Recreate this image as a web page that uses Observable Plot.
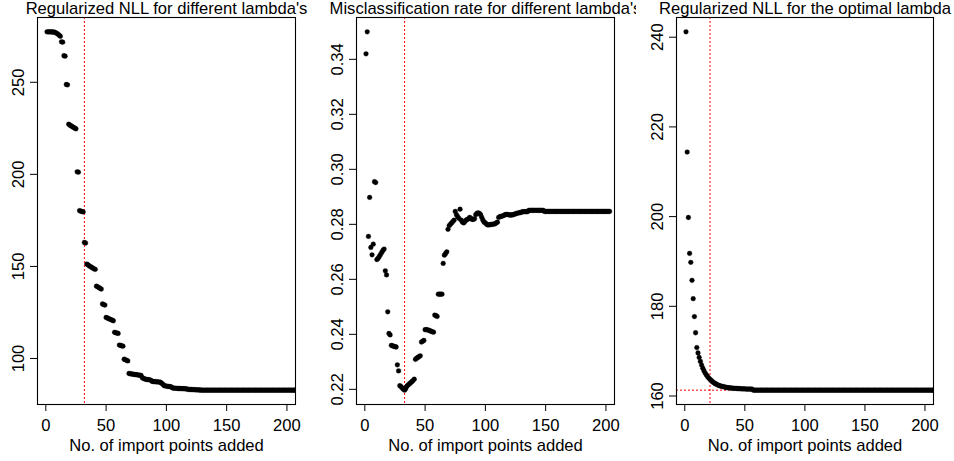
<!DOCTYPE html>
<html><head><meta charset="utf-8">
<script src="https://cdn.jsdelivr.net/npm/d3@7"></script>
<script src="https://cdn.jsdelivr.net/npm/@observablehq/plot@0.6"></script>
<style>
body{margin:0;background:#fff;}
#row{display:flex;width:954px;height:461px;}
#row > div{width:318px;height:461px;overflow:hidden;}
</style></head><body><div id="row"><div id="p1"></div><div id="p2"></div><div id="p3"></div></div>
<script>
// x category: number of import points added
const pointsAdded = d3.range(1, 211);

// Panel 1: Regularized NLL for different lambda's
const nllDifferentLambda = [
  277.4, 277.4, 277.4, 277.4, 277.3, 277.3, 277.2, 277.0, 276.6, 276.2, 275.6, 275.0,
  272.0, 271.8, 264.4, 264.2, 248.8, 248.6,
  227.2, 226.7, 226.3, 225.9, 225.5, 225.1, 224.7,
  201.4, 201.2, 180.3, 180.0, 179.8, 179.6, 163.0, 162.7,
  151.3, 150.8, 150.3, 149.9, 149.5, 149.1, 148.7, 148.4,
  139.3, 138.9, 138.5, 138.1, 137.7,
  129.6, 129.3, 129.0,
  122.3, 122.0, 121.7, 121.4, 121.1, 120.8, 120.5,
  114.2, 114.0, 113.8, 113.6,
  107.3, 107.1, 106.9, 106.7,
  99.6, 99.3, 99.0, 98.7,
  91.9, 91.7, 91.6, 91.5, 91.4, 91.3, 91.2, 91.1, 91.0, 90.9, 90.8,
  89.6, 89.2, 88.9, 88.7, 88.6, 88.5, 88.4, 88.3,
  87.6, 87.5, 87.4, 87.4, 87.3, 87.3, 87.2, 87.1, 86.6, 86.0,
  85.3, 85.1, 85.0, 84.9, 84.8, 84.7, 84.6,
  84.0, 83.9, 83.9, 83.8, 83.8, 83.7, 83.7, 83.7, 83.6, 83.6, 83.6, 83.5, 83.5,
  83.2, 83.2, 83.2, 83.1, 83.1, 83.1, 83.0, 83.0, 83.0, 82.9, 82.9,
  82.8, 82.8, 82.8, 82.8, 82.8, 82.8, 82.8, 82.8, 82.8, 82.8, 82.8, 82.8,
  82.8, 82.8, 82.8, 82.8, 82.8, 82.8, 82.8, 82.8, 82.8, 82.8, 82.8, 82.8,
  82.8, 82.8, 82.8, 82.8, 82.8, 82.8, 82.8, 82.8, 82.8, 82.8, 82.8, 82.8,
  82.8, 82.8, 82.8, 82.8, 82.8, 82.8, 82.8, 82.8, 82.8, 82.8, 82.8, 82.8,
  82.8, 82.8, 82.8, 82.8, 82.8, 82.8, 82.8, 82.8, 82.8, 82.8, 82.8, 82.8,
  82.8, 82.8, 82.8, 82.8, 82.8, 82.8, 82.8, 82.8, 82.8, 82.8, 82.8, 82.8,
  82.8, 82.8, 82.8, 82.8, 82.8, 82.8, 82.8, 82.8, 82.8, 82.8
];

// Panel 2: Misclassification rate for different lambda's
const misclassRate = [
  0.342, 0.350, 0.2756, 0.2898, 0.2716, 0.2689, 0.2728, 0.2955, 0.2952, 0.2672,
  0.2676, 0.2683, 0.2690, 0.2698, 0.2705, 0.2710, 0.2631, 0.2616, 0.2482, 0.2403,
  0.2398, 0.2360, 0.2358, 0.2357, 0.2355, 0.2354, 0.2289, 0.2267, 0.2213, 0.2210,
  0.2205, 0.2200, 0.2197, 0.2203, 0.2212, 0.2216, 0.2220, 0.2224, 0.2228, 0.2232,
  0.2237, 0.2309, 0.2313, 0.2316, 0.2319, 0.2322, 0.2372, 0.2375, 0.2378, 0.2417,
  0.2417, 0.2416, 0.2415, 0.2413, 0.2411, 0.2409, 0.2408, 0.2470, 0.2468, 0.2465,
  0.2546, 0.2546, 0.2546, 0.2546, 0.2658, 0.2688, 0.2694, 0.2700, 0.2782, 0.2795,
  0.2800, 0.2805, 0.2810, 0.2815, 0.2847, 0.2835, 0.2828, 0.2822, 0.2855, 0.2815,
  0.2808, 0.2805, 0.2810, 0.2815, 0.2818, 0.2820, 0.2825, 0.2822, 0.2818, 0.2818,
  0.2820, 0.2835, 0.2840, 0.2842, 0.2840, 0.2835, 0.2825, 0.2815, 0.2808, 0.2805,
  0.2800, 0.2798, 0.2798, 0.2799, 0.2800, 0.2800, 0.2801, 0.2802, 0.2805, 0.2808,
  0.2825, 0.2828, 0.2829, 0.2830, 0.2832, 0.2834, 0.2836, 0.2836, 0.2835, 0.2834,
  0.2834, 0.2834, 0.2835, 0.2837, 0.2838, 0.2840, 0.2841, 0.2842, 0.2843, 0.2844,
  0.2846, 0.2846, 0.2846, 0.2846, 0.2846, 0.2851, 0.2851, 0.2851, 0.2851, 0.2851,
  0.2851, 0.2851, 0.2851, 0.2851, 0.2851, 0.2851, 0.2851, 0.2851, 0.2847, 0.2847,
  0.2847, 0.2847, 0.2847, 0.2847, 0.2847, 0.2847, 0.2847, 0.2847, 0.2847, 0.2847,
  0.2847, 0.2847, 0.2847, 0.2847, 0.2847, 0.2847, 0.2847, 0.2847, 0.2847, 0.2847,
  0.2847, 0.2847, 0.2847, 0.2847, 0.2847, 0.2847, 0.2847, 0.2847, 0.2847, 0.2847,
  0.2847, 0.2847, 0.2847, 0.2847, 0.2847, 0.2847, 0.2847, 0.2847, 0.2847, 0.2847,
  0.2847, 0.2847, 0.2847, 0.2847, 0.2847, 0.2847, 0.2847, 0.2847, 0.2847, 0.2847,
  0.2847, 0.2847, 0.2847
];

// Panel 3: Regularized NLL for the optimal lambda
const nllOptimalLambda = [
  241.2, 214.4, 199.8, 191.8, 189.8, 185.8, 181.7, 177.7, 174.1, 170.8,
  169.6, 168.6, 167.7, 166.9, 166.2, 165.6, 165.1, 164.7, 164.3, 164.0,
  163.7, 163.5, 163.2, 163.0, 162.8, 162.7, 162.5, 162.4, 162.3, 162.2,
  162.15, 162.1, 162.0, 161.95, 161.9, 161.85, 161.8, 161.8, 161.75, 161.75,
  161.7, 161.7, 161.7, 161.65, 161.65, 161.65, 161.6, 161.6, 161.6, 161.6,
  161.55, 161.55, 161.55, 161.55, 161.55, 161.55,
  161.3, 161.3, 161.3, 161.3, 161.3, 161.3, 161.3, 161.3, 161.3, 161.3, 161.3, 161.3,
  161.3, 161.3, 161.3, 161.3, 161.3, 161.3, 161.3, 161.3, 161.3, 161.3, 161.3, 161.3,
  161.3, 161.3, 161.3, 161.3, 161.3, 161.3, 161.3, 161.3, 161.3, 161.3, 161.3, 161.3,
  161.3, 161.3, 161.3, 161.3, 161.3, 161.3, 161.3, 161.3, 161.3, 161.3, 161.3, 161.3,
  161.3, 161.3, 161.3, 161.3, 161.3, 161.3, 161.3, 161.3, 161.3, 161.3, 161.3, 161.3,
  161.3, 161.3, 161.3, 161.3, 161.3, 161.3, 161.3, 161.3, 161.3, 161.3, 161.3, 161.3,
  161.3, 161.3, 161.3, 161.3, 161.3, 161.3, 161.3, 161.3, 161.3, 161.3, 161.3, 161.3,
  161.3, 161.3, 161.3, 161.3, 161.3, 161.3, 161.3, 161.3, 161.3, 161.3, 161.3, 161.3,
  161.3, 161.3, 161.3, 161.3, 161.3, 161.3, 161.3, 161.3, 161.3, 161.3, 161.3, 161.3,
  161.3, 161.3, 161.3, 161.3, 161.3, 161.3, 161.3, 161.3, 161.3, 161.3, 161.3, 161.3,
  161.3, 161.3, 161.3, 161.3, 161.3, 161.3, 161.3, 161.3, 161.3, 161.3, 161.3, 161.3,
  161.3, 161.3, 161.3, 161.3, 161.3, 161.3, 161.3, 161.3, 161.3, 161.3, 161.3, 161.3,
  161.3, 161.3, 161.3, 161.3, 161.3, 161.3, 161.3, 161.3, 161.3, 161.3
];

const titles = [
  "Regularized NLL for different lambda's",
  "Misclassification rate for different lambda's",
  "Regularized NLL for the optimal lambda"
];
const xLabel = "No. of import points added";
const xTicks = [0, 50, 100, 150, 200];
const xDomain = [-6.9, 207.1];
const yTicks1 = [100, 150, 200, 250];
const yTicks2 = [0.22, 0.24, 0.26, 0.28, 0.30, 0.32, 0.34];
const yTicks3 = [160, 180, 200, 220, 240];
const vLines = [32, 33, 21];
const hLine3 = 161.3;

const FONT = "'Liberation Sans', Arial, Helvetica, sans-serif";
const FS = 16.6;

function pad(ext) { const d = (ext[1] - ext[0]) * 0.04; return [ext[0] - d, ext[1] + d]; }

function panel({values, title, yTicks, yFormat, vline, hline, ml, mr}) {
  const data = pointsAdded.map((x, i) => ({x, y: values[i]})).filter(d => d.y != null);
  const marks = [
    Plot.axisX({ticks: xTicks, tickSize: 7, tickPadding: 8, label: xLabel, labelAnchor: "center", labelOffset: 46, labelArrow: "none"}),
    Plot.axisY({ticks: yTicks, tickSize: 7, tickRotate: -90, tickPadding: 7, tickFormat: yFormat, label: null}),
    Plot.ruleX([vline], {x: d => d, stroke: "#ff0000", strokeWidth: 1, strokeDasharray: "2,2"})
  ];
  if (hline != null) marks.push(Plot.ruleY([hline], {y: d => d, stroke: "#ff0000", strokeWidth: 1, strokeDasharray: "2,2"}));
  marks.push(Plot.dot(data, {x: "x", y: "y", r: 2.4, fill: "black", stroke: "black", strokeWidth: 0.3, clip: true}));
  marks.push(Plot.frame({stroke: "black", strokeWidth: 1.1}));
  marks.push(Plot.text([title], {frameAnchor: "top", dy: -4, lineAnchor: "bottom", text: d => d, fontSize: FS, fill: "black"}));
  return Plot.plot({
    width: 318, height: 461,
    marginLeft: ml, marginRight: mr, marginTop: 17, marginBottom: 57,
    x: {domain: xDomain, label: null},
    y: {domain: pad(d3.extent(values)), label: null},
    style: {fontFamily: FONT, fontSize: FS + "px", background: "white", color: "black", overflow: "hidden"},
    marks
  });
}

document.getElementById("p1").append(panel({values: nllDifferentLambda, title: titles[0], yTicks: yTicks1, yFormat: d3.format("d"), vline: vLines[0], ml: 37, mr: 23}));
document.getElementById("p2").append(panel({values: misclassRate, title: titles[1], yTicks: yTicks2, yFormat: d3.format(".2f"), vline: vLines[1], ml: 38, mr: 22}));
document.getElementById("p3").append(panel({values: nllOptimalLambda, title: titles[2], yTicks: yTicks3, yFormat: d3.format("d"), vline: vLines[2], hline: hLine3, ml: 40, mr: 21}));
</script></body></html>
